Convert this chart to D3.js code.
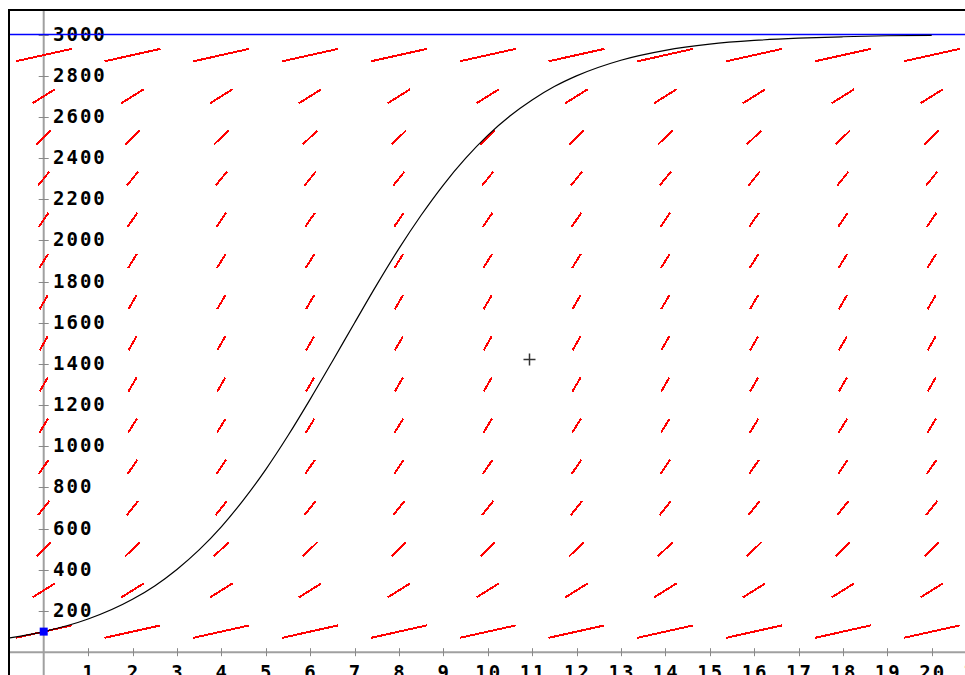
<!DOCTYPE html>
<html>
<head>
<meta charset="utf-8">
<script src="https://cdn.jsdelivr.net/npm/d3@7"></script>
<style>
  body { margin: 0; background: #fff; }
  svg { display: block; }
  .lbl { font-family: "DejaVu Sans Mono", monospace; font-weight: bold; font-size: 19px; fill: #000; letter-spacing: 2px; }
</style>
</head>
<body>
<svg id="canvas"></svg>
<script>
// grid of the slope field (t columns, P rows)
let fieldT = [0, 2, 4, 6, 8, 10, 12, 14, 16, 18, 20]
let fieldP = [100, 300, 500, 700, 900, 1100, 1300, 1500, 1700, 1900, 2100, 2300, 2500, 2700, 2900]
// dP/dt read per row
let rowSlope = [48, 135, 208, 268, 315, 348, 368, 375, 368, 348, 315, 268, 208, 135, 48]

// solution curve (t, P)
let curveT = [-0.8, 0, 1, 2, 2.5, 3, 3.5, 4, 4.5, 5, 5.5, 6, 6.5, 7, 7.5, 8, 8.5, 9, 9.5, 10, 10.5, 11, 11.5, 12, 13, 14, 15, 16, 17, 18, 19, 20]
let curveP = [68, 100, 161, 257, 322, 402, 497, 609, 740, 887, 1051, 1228, 1412, 1599, 1784, 1960, 2122, 2269, 2398, 2510, 2604, 2682, 2747, 2799, 2875, 2923, 2953, 2971, 2982, 2989, 2994, 2996]

let carrying = 3000
let start = [0, 100]
let cursor = [10.94, 1422]

let xTicks = d3.range(1, 22)
let yTicks = d3.range(200, 3001, 200)

let width = 965
let height = 675

let canvas = d3.select('#canvas')
canvas.attr('width', width)
      .attr('height', height)

let xScale = d3.scaleLinear()
               .domain([0, 20])
               .range([43.7, 931.7])

let yScale = d3.scaleLinear()
               .domain([0, 3000])
               .range([652.2, 34.5])

/*frame*/
canvas.append('rect')
      .attr('x', 9)
      .attr('y', 10)
      .attr('width', 1000)
      .attr('height', 700)
      .attr('fill', 'none')
      .attr('stroke', '#000')
      .attr('stroke-width', 2)

/*axes*/
canvas.append('line')
      .attr('x1', xScale(0)).attr('x2', xScale(0))
      .attr('y1', 11).attr('y2', height)
      .attr('stroke', '#a0a0a0')
      .attr('stroke-width', 2)
canvas.append('line')
      .attr('x1', 10).attr('x2', width)
      .attr('y1', yScale(0)).attr('y2', yScale(0))
      .attr('stroke', '#a0a0a0')
      .attr('stroke-width', 2)

canvas.selectAll('.xtick')
      .data(xTicks)
      .enter()
      .append('line')
      .attr('class', 'xtick')
      .attr('x1', (d) => Math.round(xScale(d)) + 0.5)
      .attr('x2', (d) => Math.round(xScale(d)) + 0.5)
      .attr('y1', yScale(0) - 4)
      .attr('y2', yScale(0) + 4)
      .attr('stroke', '#888')
      .attr('stroke-width', 1)

canvas.selectAll('.ytick')
      .data(yTicks)
      .enter()
      .append('line')
      .attr('class', 'ytick')
      .attr('x1', xScale(0) - 5)
      .attr('x2', xScale(0) + 5)
      .attr('y1', (d) => Math.round(yScale(d)) + 0.5)
      .attr('y2', (d) => Math.round(yScale(d)) + 0.5)
      .attr('stroke', '#888')
      .attr('stroke-width', 1)

// bottom labels run past the window edge, as in the original
canvas.selectAll('.xlbl')
      .data(xTicks)
      .enter()
      .append('text')
      .attr('class', 'lbl')
      .attr('x', (d) => xScale(d) + 1)
      .attr('y', 679)
      .attr('text-anchor', 'middle')
      .text((d) => d)

canvas.selectAll('.ylbl')
      .data(yTicks)
      .enter()
      .append('text')
      .attr('class', 'lbl')
      .attr('x', 53)
      .attr('y', (d) => yScale(d) + 6)
      .text((d) => d)

/*slope field*/
let cells = []
fieldP.forEach((p, i) => {
  fieldT.forEach((t) => cells.push({t: t, p: p, s: rowSlope[i]}))
})

let segLen = (s) => Math.min(1.26, 68 / Math.abs(s))

canvas.selectAll('.seg')
      .data(cells)
      .enter()
      .append('line')
      .attr('class', 'seg')
      .attr('x1', (d) => xScale(d.t - segLen(d.s) / 2))
      .attr('x2', (d) => xScale(d.t + segLen(d.s) / 2))
      .attr('y1', (d) => yScale(d.p - d.s * segLen(d.s) / 2))
      .attr('y2', (d) => yScale(d.p + d.s * segLen(d.s) / 2))
      .attr('stroke', '#ff0000')
      .attr('stroke-width', 2)
      .attr('shape-rendering', 'crispEdges')

/*carrying capacity*/
canvas.append('line')
      .attr('x1', 10).attr('x2', width)
      .attr('y1', yScale(carrying)).attr('y2', yScale(carrying))
      .attr('stroke', '#0000ff')
      .attr('stroke-width', 1.5)

/*solution curve*/
let line = d3.line()
             .x((d, i) => xScale(curveT[i]))
             .y((d) => yScale(d))
             .curve(d3.curveMonotoneX)

canvas.append('path')
      .attr('d', line(curveP))
      .attr('fill', 'none')
      .attr('stroke', '#000')
      .attr('stroke-width', 1.2)

/*initial point*/
canvas.append('rect')
      .attr('x', xScale(start[0]) - 4)
      .attr('y', yScale(start[1]) - 4)
      .attr('width', 8)
      .attr('height', 8)
      .attr('fill', '#0000ff')

/*cursor*/
let cx = Math.round(xScale(cursor[0])) + 0.5
let cy = Math.round(yScale(cursor[1])) + 0.5
canvas.append('path')
      .attr('d', `M${cx - 6},${cy}H${cx + 6}M${cx},${cy - 6}V${cy + 6}`)
      .attr('stroke', '#333')
      .attr('stroke-width', 1.5)
</script>
</body>
</html>
